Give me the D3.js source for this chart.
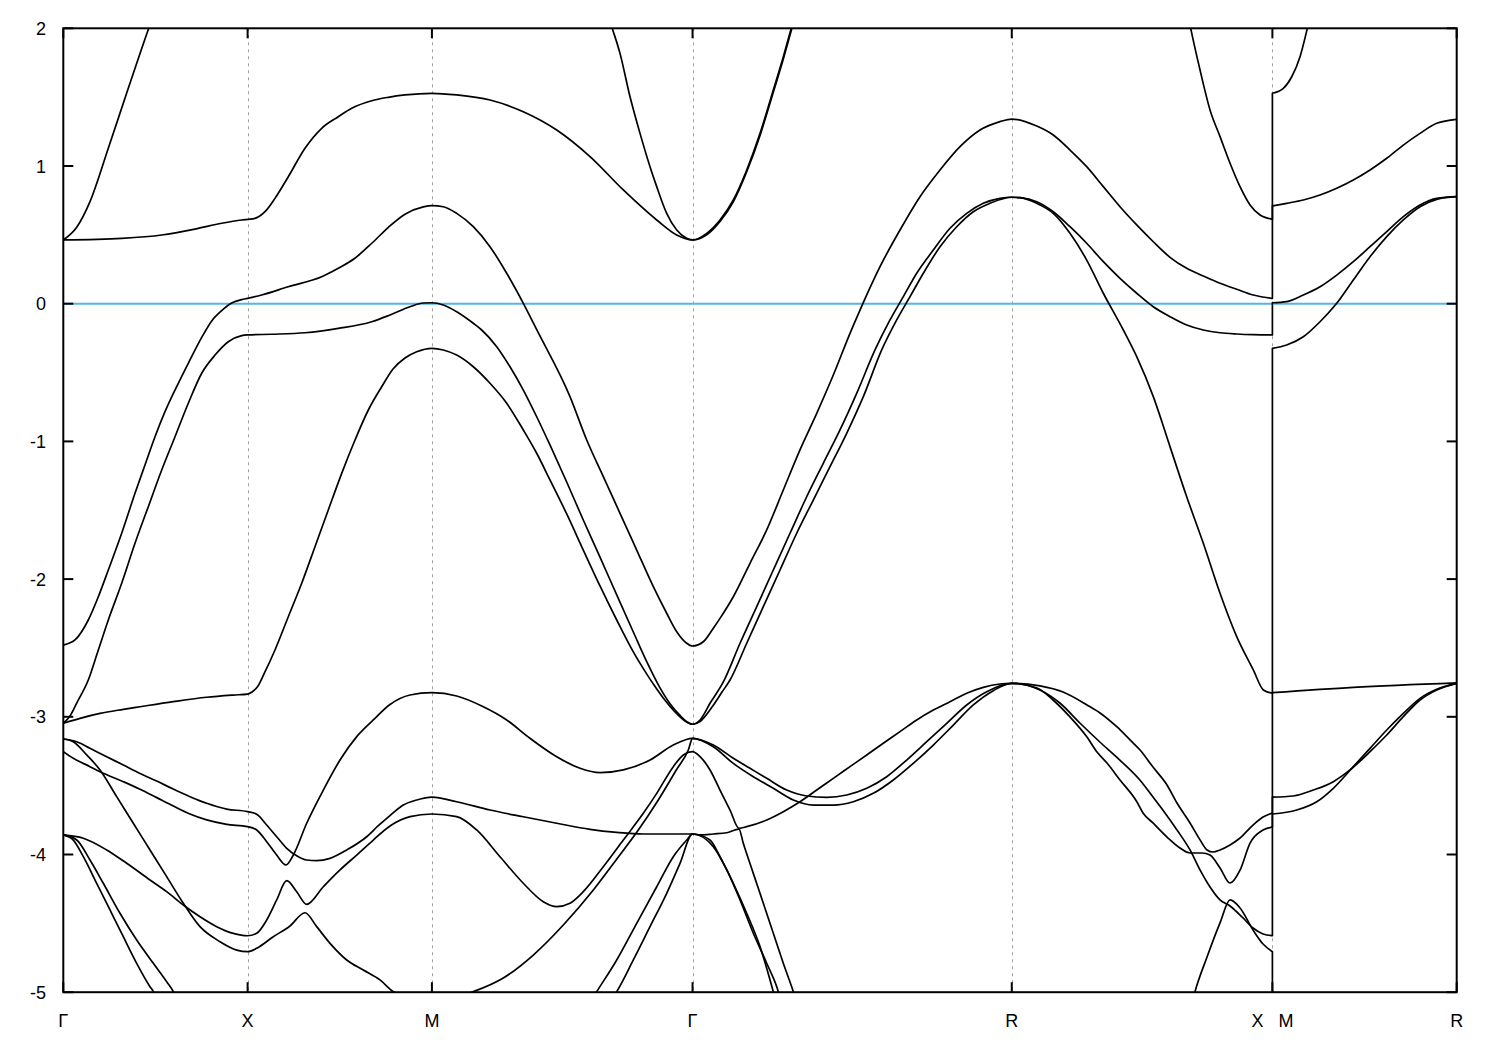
<!DOCTYPE html>
<html><head><meta charset="utf-8">
<script src="https://cdn.jsdelivr.net/npm/d3@7"></script>
<style>
body{margin:0;background:#fff;}
svg{display:block;}
text{font-family:"Liberation Sans",Arial,sans-serif;font-size:18px;fill:#000;white-space:pre;}
</style></head><body>
<svg id="chart" width="1500" height="1050"></svg>
<script>
// high-symmetry path positions and labels
const kTicks = [0, 0.5, 1.0, 1.7071, 2.5731, 3.2802, 3.7802];
const kLabels = ["Γ", "X", "M", "Γ", "R", "X   M", "R"];
const eTicks = [-5, -4, -3, -2, -1, 0, 1, 2];
const eRange = [-5, 2];
const fermiLevel = 0;

// bands: [k, E] pairs, repeated k = discontinuity X|M
const bandC1 = [[0,0.463],[0.0364,0.555],[0.0724,0.741],[0.1221,1.129],[0.1763,1.564],[0.2333,2.012],[0.245,2.10]];
const bandC2 = [[0,0.463],[0.1584,0.475],[0.2670,0.499],[0.3573,0.542],[0.4297,0.584],[0.4840,0.608],[0.5,0.613],[0.5201,0.620],[0.5472,0.668],[0.5743,0.765],[0.6104,0.922],[0.6557,1.129],[0.7010,1.274],[0.7461,1.358],[0.7824,1.419],[0.8367,1.474],[0.8817,1.499],[0.9270,1.516],[1.0,1.528],[1.0673,1.516],[1.1576,1.479],[1.2480,1.394],[1.3386,1.261],[1.4290,1.068],[1.5193,0.826],[1.6099,0.608],[1.6642,0.499],[1.7071,0.463],[1.7455,0.511],[1.7816,0.608],[1.8177,0.753],[1.8541,0.971],[1.8902,1.237],[1.9262,1.552],[1.9534,1.794],[1.9761,2.012],[1.9851,2.097]];
const bandV = [[1.4778,2.097],[1.4878,2.012],[1.5103,1.818],[1.5375,1.503],[1.5646,1.237],[1.5917,0.995],[1.6099,0.850],[1.6370,0.656],[1.6642,0.535],[1.6913,0.475],[1.7071,0.463],[1.7455,0.500],[1.7816,0.597],[1.8177,0.740],[1.8541,0.958],[1.8902,1.222],[1.9262,1.536],[1.9534,1.777],[1.9761,1.995],[1.9851,2.08]];
const bandB1 = [[3.0513,2.097],[3.0586,2.0],[3.0839,1.697],[3.1110,1.407],[3.1382,1.213],[3.1653,1.020],[3.1924,0.850],[3.2196,0.717],[3.2467,0.644],[3.2802,0.613],[3.2802,1.528],[3.3099,1.564],[3.3327,1.648],[3.3552,1.794],[3.3750,2.0],[3.3823,2.082]];
const bandC3 = [[0,-2.479],[0.0317,-2.442],[0.0678,-2.297],[0.0950,-2.128],[0.1221,-1.934],[0.1584,-1.667],[0.1945,-1.377],[0.2216,-1.171],[0.2488,-0.966],[0.2759,-0.784],[0.3120,-0.578],[0.3391,-0.433],[0.3755,-0.245],[0.4026,-0.125],[0.4297,-0.050],[0.4569,0.005],[0.4840,0.030],[0.5,0.039],
 [0.538,0.063],[0.610,0.123],[0.701,0.196],[0.746,0.257],[0.791,0.330],[0.837,0.439],[0.882,0.555],[0.927,0.650],[0.9767,0.703],[1.0,0.712],
 [1.0309,0.704],[1.0673,0.656],[1.1123,0.559],[1.1576,0.414],[1.2029,0.221],[1.2480,0.003],[1.2865,-0.200],[1.3746,-0.675],[1.4200,-0.990],[1.4650,-1.256],[1.5103,-1.522],[1.5556,-1.789],[1.6007,-2.055],[1.6370,-2.248],[1.6642,-2.382],[1.6913,-2.466],[1.7071,-2.486],
 [1.7363,-2.455],[1.7634,-2.357],[1.7816,-2.285],[1.8177,-2.128],[1.8630,-1.885],[1.9083,-1.643],[1.9533,-1.353],[1.9986,-1.062],[2.0440,-0.796],[2.0890,-0.518],[2.1343,-0.215],[2.1614,-0.046],[2.2157,0.269],[2.2699,0.535],[2.3242,0.777],[2.3785,0.971],[2.4327,1.140],[2.4870,1.261],[2.5412,1.322],[2.5731,1.341],
 [2.6408,1.290],[2.6858,1.225],[2.7311,1.116],[2.7764,0.995],[2.8215,0.850],[2.8668,0.704],[2.9121,0.572],[2.9571,0.450],[3.0024,0.337],[3.0477,0.257],[3.0928,0.201],[3.1381,0.148],[3.1834,0.105],[3.2284,0.063],[3.2802,0.039],
 [3.2802,0.710],[3.3190,0.729],[3.3641,0.753],[3.4094,0.789],[3.4547,0.838],[3.4997,0.898],[3.5451,0.971],[3.5904,1.056],[3.6354,1.152],[3.6807,1.237],[3.7260,1.310],[3.7802,1.339]];
const bandC4 = [[0,-3.047],[0.0182,-2.994],[0.0364,-2.900],[0.0678,-2.733],[0.0950,-2.515],[0.1221,-2.297],[0.1584,-2.030],[0.1945,-1.740],[0.2306,-1.474],[0.2670,-1.208],[0.3031,-0.966],[0.3391,-0.723],[0.3755,-0.505],[0.4116,-0.373],[0.4476,-0.276],[0.4840,-0.232],[0.5,-0.227],
 [0.5654,-0.222],[0.6557,-0.211],[0.7461,-0.179],[0.8367,-0.131],[0.8863,-0.082],[0.9406,-0.022],[0.9767,0.005],[1.0,0.007],
 [1.0309,-0.009],[1.0673,-0.058],[1.1123,-0.142],[1.1351,-0.191],[1.1758,-0.312],[1.2119,-0.458],[1.2480,-0.627],[1.2843,-0.821],[1.3203,-1.026],[1.3657,-1.295],[1.4107,-1.571],[1.4560,-1.840],[1.5014,-2.115],[1.5464,-2.384],[1.5828,-2.600],[1.6188,-2.790],[1.6460,-2.905],[1.6731,-2.990],[1.6913,-3.035],[1.7071,-3.054],
 [1.7274,-3.023],[1.7545,-2.902],[1.7906,-2.747],[1.8359,-2.466],[1.8812,-2.200],[1.9262,-1.934],[1.9715,-1.667],[2.0168,-1.402],[2.0618,-1.159],[2.1071,-0.917],[2.1524,-0.651],[2.2021,-0.336],[2.2428,-0.118],[2.2789,0.051],[2.3152,0.221],[2.3603,0.390],[2.4056,0.548],[2.4509,0.656],[2.4959,0.729],[2.5412,0.765],[2.5731,0.773],
 [2.5955,0.770],[2.6408,0.741],[2.6858,0.668],[2.7311,0.559],[2.7764,0.439],[2.8215,0.305],[2.8668,0.184],[2.9121,0.076],[2.9571,-0.022],[3.0024,-0.094],[3.0477,-0.155],[3.0928,-0.191],[3.1381,-0.211],[3.1834,-0.220],[3.2284,-0.225],[3.2802,-0.227],
 [3.2802,0.007],[3.3190,0.015],[3.3641,0.063],[3.4094,0.123],[3.4547,0.208],[3.4997,0.305],[3.5451,0.414],[3.5904,0.523],[3.6354,0.632],[3.6807,0.717],[3.7260,0.765],[3.7802,0.777]];
const bandC5 = [[0,-3.047],[0.0453,-3.011],[0.0996,-2.975],[0.1628,-2.946],[0.2081,-2.927],[0.2984,-2.890],[0.3890,-2.858],[0.4612,-2.842],[0.5,-2.835],
 [0.5119,-2.820],[0.5282,-2.776],[0.5445,-2.689],[0.5743,-2.515],[0.6104,-2.273],[0.6468,-2.030],[0.6828,-1.765],[0.7189,-1.498],[0.7553,-1.232],[0.7914,-0.990],[0.8275,-0.772],[0.8638,-0.603],[0.8945,-0.474],[0.9270,-0.394],[0.9588,-0.349],[1.0,-0.324],
 [1.0309,-0.336],[1.0673,-0.373],[1.1123,-0.458],[1.1576,-0.578],[1.2029,-0.723],[1.2480,-0.917],[1.2843,-1.086],[1.3203,-1.280],[1.3657,-1.527],[1.4107,-1.789],[1.4560,-2.050],[1.5014,-2.297],[1.5464,-2.529],[1.5782,-2.670],[1.6053,-2.780],[1.6324,-2.880],[1.6595,-2.965],[1.6866,-3.030],[1.7071,-3.054],
 [1.7274,-3.034],[1.7600,-2.929],[1.7871,-2.820],[1.8088,-2.733],[1.8541,-2.466],[1.8991,-2.200],[1.9444,-1.934],[1.9897,-1.667],[2.0347,-1.426],[2.0800,-1.184],[2.1253,-0.941],[2.1704,-0.675],[2.2203,-0.336],[2.2610,-0.118],[2.2971,0.051],[2.3332,0.221],[2.3785,0.414],[2.4238,0.559],[2.4688,0.668],[2.5141,0.729],[2.5731,0.773],
 [2.5955,0.770],[2.6408,0.729],[2.6858,0.656],[2.7311,0.511],[2.7764,0.317],[2.8215,0.076],[2.8757,-0.191],[2.9121,-0.385],[2.9571,-0.675],[3.0024,-1.038],[3.0477,-1.402],[3.0928,-1.740],[3.1381,-2.103],[3.1834,-2.418],[3.2284,-2.660],[3.2556,-2.805],[3.2802,-2.829],
 [3.2802,-0.324],[3.3190,-0.300],[3.3641,-0.240],[3.4094,-0.131],[3.4547,0.003],[3.4997,0.172],[3.5451,0.341],[3.5904,0.487],[3.6354,0.608],[3.6807,0.704],[3.7260,0.758],[3.7802,0.777]];
const bandL1 = [[0,-3.161],[0.0364,-3.181],[0.0724,-3.229],[0.1177,-3.290],[0.1628,-3.350],[0.2081,-3.411],[0.2534,-3.467],[0.2984,-3.525],[0.3437,-3.580],[0.3890,-3.628],[0.4433,-3.670],[0.5,-3.689],
 [0.5247,-3.708],[0.5518,-3.786],[0.5789,-3.871],[0.6061,-3.955],[0.6332,-4.009],[0.6603,-4.040],[0.6875,-4.045],[0.7236,-4.028],[0.7689,-3.967],[0.8231,-3.871],[0.8538,-3.793],[0.8863,-3.717],[0.9224,-3.641],[0.9588,-3.604],[1.0,-3.583],
 [1.0673,-3.617],[1.1576,-3.677],[1.2480,-3.726],[1.3386,-3.773],[1.4290,-3.817],[1.5014,-3.839],[1.5735,-3.851],[1.6460,-3.851],[1.7071,-3.851],
 [1.7274,-3.858],[1.7634,-3.851],[1.7998,-3.842],[1.8331,-3.815],[1.8448,-3.919],[1.8719,-4.137],[1.8991,-4.354],[1.9262,-4.572],[1.9533,-4.790],[1.9805,-4.996],[1.9878,-5.057]];
const bandL2 = [[0,-3.253],[0.0271,-3.301],[0.0724,-3.362],[0.0996,-3.399],[0.1628,-3.471],[0.2081,-3.526],[0.2534,-3.587],[0.2984,-3.648],[0.3437,-3.706],[0.3890,-3.749],[0.4433,-3.781],[0.5,-3.798],
 [0.5247,-3.822],[0.5518,-3.907],[0.5789,-4.004],[0.6042,-4.076],[0.6240,-4.004],[0.6603,-3.773],[0.7054,-3.532],[0.7507,-3.314],[0.7960,-3.144],[0.8410,-3.023],[0.8863,-2.911],[0.9406,-2.842],[1.0,-2.825],
 [1.0673,-2.849],[1.1395,-2.927],[1.2029,-3.023],[1.2661,-3.156],[1.3386,-3.290],[1.4018,-3.374],[1.4560,-3.406],[1.5193,-3.386],[1.5917,-3.314],[1.6549,-3.205],[1.7071,-3.156],
 [1.7634,-3.205],[1.8177,-3.301],[1.8630,-3.374],[1.9083,-3.447],[1.9626,-3.532],[2.0168,-3.575],[2.0711,-3.585],[2.1253,-3.568],[2.1796,-3.519],[2.2339,-3.435],[2.2881,-3.314],[2.3424,-3.181],[2.3967,-3.047],[2.4509,-2.914],[2.5052,-2.818],[2.5731,-2.757],
 [2.6498,-2.776],[2.7122,-2.820],[2.7773,-2.914],[2.8126,-2.972],[2.8587,-3.074],[2.8940,-3.168],[2.9211,-3.241],[2.9563,-3.365],[2.9943,-3.495],[3.0214,-3.626],[3.0567,-3.771],[3.0839,-3.894],[3.1029,-3.967],[3.1191,-3.982],[3.1381,-3.967],[3.1653,-3.931],[3.1924,-3.880],[3.2276,-3.786],[3.2548,-3.728],[3.2802,-3.698],
 [3.2802,-2.825],[3.4997,-2.786],[3.7802,-2.753]];
const bandL3 = [[0,-3.858],[0.0543,-3.882],[0.1177,-3.967],[0.1720,-4.064],[0.2352,-4.185],[0.2805,-4.270],[0.3256,-4.367],[0.3709,-4.452],[0.4162,-4.524],[0.4612,-4.573],[0.5,-4.590],
 [0.5247,-4.572],[0.5518,-4.476],[0.5789,-4.330],[0.6061,-4.190],[0.6332,-4.270],[0.6603,-4.362],[0.7054,-4.234],[0.7507,-4.112],[0.7960,-4.004],[0.8410,-3.895],[0.8863,-3.793],[0.9406,-3.725],[1.0,-3.706],
 [1.0673,-3.725],[1.1215,-3.822],[1.1847,-4.016],[1.2480,-4.209],[1.3022,-4.343],[1.3386,-4.379],[1.3746,-4.354],[1.4107,-4.270],[1.4650,-4.089],[1.5193,-3.895],[1.5735,-3.701],[1.6099,-3.556],[1.6549,-3.362],[1.6821,-3.277],[1.7071,-3.253],
 [1.7274,-3.290],[1.7545,-3.386],[1.7816,-3.532],[1.8088,-3.677],[1.8331,-3.810],[1.8541,-3.798],[1.9083,-3.749],[1.9533,-3.689],[1.9986,-3.617],[2.0440,-3.532],[2.0890,-3.447],[2.1343,-3.362],[2.1796,-3.277],[2.2246,-3.192],[2.2699,-3.108],[2.3152,-3.023],[2.3603,-2.951],[2.4056,-2.890],[2.4509,-2.829],[2.4959,-2.786],[2.5412,-2.762],[2.5731,-2.757],
 [2.6416,-2.791],[2.6850,-2.878],[2.7311,-3.001],[2.7772,-3.147],[2.8044,-3.256],[2.8315,-3.336],[2.8668,-3.459],[2.9129,-3.619],[2.9292,-3.698],[2.9563,-3.771],[2.9943,-3.873],[3.0296,-3.953],[3.0567,-3.989],[3.0893,-3.989],[3.1110,-4.004],[3.1381,-4.098],[3.1652,-4.207],[3.1924,-4.113],[3.2196,-3.917],[3.2548,-3.822],[3.2802,-3.800],
 [3.2802,-3.583],[3.3370,-3.575],[3.3913,-3.532],[3.4455,-3.471],[3.4908,-3.386],[3.5451,-3.253],[3.5904,-3.132],[3.6354,-2.999],[3.6807,-2.878],[3.7260,-2.805],[3.7802,-2.757]];
const bandL4 = [[0,-3.161],[0.0271,-3.181],[0.0635,-3.277],[0.0996,-3.386],[0.1449,-3.580],[0.1899,-3.773],[0.2352,-3.967],[0.2805,-4.161],[0.3256,-4.354],[0.3709,-4.524],[0.4251,-4.633],[0.4704,-4.694],[0.5,-4.706],
 [0.5247,-4.681],[0.5697,-4.597],[0.6150,-4.519],[0.6557,-4.423],[0.6875,-4.524],[0.7236,-4.645],[0.7689,-4.766],[0.8139,-4.839],[0.8592,-4.911],[0.8953,-4.996],[0.9406,-5.035],[1.0,-5.05],
 [1.0581,-5.042],[1.1123,-4.996],[1.1937,-4.897],[1.2751,-4.730],[1.3565,-4.512],[1.4379,-4.258],[1.5057,-4.018],[1.5600,-3.822],[1.6142,-3.604],[1.6631,-3.386],[1.6956,-3.241],[1.7071,-3.156],
 [1.7634,-3.217],[1.8177,-3.338],[1.8720,-3.435],[1.9262,-3.519],[1.9805,-3.604],[2.0347,-3.641],[2.0890,-3.641],[2.1432,-3.617],[2.1975,-3.556],[2.2518,-3.459],[2.3060,-3.338],[2.3603,-3.205],[2.4146,-3.060],[2.4688,-2.914],[2.5231,-2.810],[2.5731,-2.757],
 [2.6494,-2.805],[2.7036,-2.900],[2.7579,-3.045],[2.8121,-3.183],[2.8664,-3.314],[2.9207,-3.459],[2.9563,-3.583],[2.9829,-3.677],[3.0214,-3.822],[3.0567,-3.967],[3.0838,-4.112],[3.1110,-4.236],[3.1381,-4.330],[3.1652,-4.374],[3.2005,-4.461],[3.2276,-4.534],[3.2548,-4.577],[3.2802,-4.590],
 [3.2802,-3.706],[3.3462,-3.677],[3.4005,-3.617],[3.4455,-3.519],[3.4997,-3.362],[3.5451,-3.229],[3.5904,-3.096],[3.6354,-2.975],[3.6807,-2.866],[3.7260,-2.800],[3.7802,-2.757]];
const bandL5 = [[0,-3.858],[0.0271,-3.895],[0.0543,-4.016],[0.0906,-4.209],[0.1267,-4.403],[0.1628,-4.597],[0.1991,-4.790],[0.2352,-4.960],[0.2442,-4.996],[0.255,-5.08]];
const bandL6 = [[0,-3.858],[0.0364,-3.895],[0.0724,-4.040],[0.1085,-4.209],[0.1538,-4.427],[0.1991,-4.621],[0.2442,-4.790],[0.2805,-4.924],[0.2984,-4.996],[0.31,-5.07]];
const bandL7 = [[1.4344,-5.05],[1.4471,-4.996],[1.5014,-4.766],[1.5556,-4.500],[1.6099,-4.234],[1.6549,-4.016],[1.6913,-3.895],[1.7071,-3.851],[1.7545,-3.895],[1.7816,-4.016],[1.8177,-4.209],[1.8541,-4.427],[1.8902,-4.669],[1.9262,-4.996],[1.9308,-5.04]];
const bandL8 = [[1.4886,-5.05],[1.5014,-4.996],[1.5464,-4.766],[1.5917,-4.524],[1.6370,-4.282],[1.6731,-4.064],[1.7071,-3.851],[1.7634,-3.943],[1.7998,-4.112],[1.8359,-4.330],[1.8720,-4.572],[1.9083,-4.790],[1.9398,-4.996],[1.9444,-5.04]];
const bandL9 = [[3.0649,-5.05],[3.0703,-4.996],[3.1029,-4.744],[3.1381,-4.497],[3.1653,-4.330],[3.1924,-4.388],[3.2276,-4.548],[3.2548,-4.650],[3.2802,-4.706],[3.2802,-5.1]];

const bands = [bandC1, bandC2, bandV, bandB1, bandC3, bandC4, bandC5, bandL1, bandL2, bandL3, bandL4, bandL5, bandL6, bandL7, bandL8, bandL9];

// ---- drawing ----
const svg = d3.select("#chart");
const plot = {x0: 63.3, x1: 1456.7, y0: 28.3, y1: 992.2};
const x = d3.scaleLinear().domain([kTicks[0], kTicks[kTicks.length - 1]]).range([plot.x0, plot.x1]);
const y = d3.scaleLinear().domain(eRange).range([plot.y1, plot.y0]);

svg.append("rect").attr("width", 1500).attr("height", 1050).attr("fill", "#fff");
svg.append("clipPath").attr("id", "clip").append("rect")
  .attr("x", plot.x0).attr("y", plot.y0).attr("width", plot.x1 - plot.x0).attr("height", plot.y1 - plot.y0);

// vertical dashed grid at inner high-symmetry points
svg.append("g").selectAll("line").data(kTicks.slice(1, -1)).join("line")
  .attr("x1", d => Math.round(x(d)) + 0.5).attr("x2", d => Math.round(x(d)) + 0.5)
  .attr("y1", plot.y0).attr("y2", plot.y1)
  .attr("stroke", "#a0a0a0").attr("stroke-width", 1).attr("stroke-dasharray", "3,4");

// Fermi level
svg.append("line").attr("x1", plot.x0).attr("x2", plot.x1)
  .attr("y1", y(fermiLevel)).attr("y2", y(fermiLevel))
  .attr("stroke", "#56b4e9").attr("stroke-width", 2);

// bands
const gen = d3.line().x(d => x(d[0])).y(d => y(d[1])).curve(d3.curveMonotoneX);
function bandPath(pts) {
  const runs = [];
  let cur = [pts[0]];
  for (let i = 1; i < pts.length; i++) {
    if (pts[i][0] === pts[i - 1][0]) { runs.push(cur); cur = [pts[i]]; }
    else cur.push(pts[i]);
  }
  runs.push(cur);
  let s = "";
  runs.forEach((r, i) => {
    if (r.length === 1) {
      s += (i ? "L" : "M") + x(r[0][0]) + "," + y(r[0][1]);
    } else {
      const p = gen(r);
      s += i ? "L" + p.slice(1) : p;
    }
  });
  return s;
}
svg.append("g").attr("clip-path", "url(#clip)").selectAll("path").data(bands).join("path")
  .attr("d", bandPath).attr("fill", "none").attr("stroke", "#000")
  .attr("stroke-width", 1.7).attr("stroke-linejoin", "round");

// frame
svg.append("rect").attr("x", plot.x0).attr("y", plot.y0)
  .attr("width", plot.x1 - plot.x0).attr("height", plot.y1 - plot.y0)
  .attr("fill", "none").attr("stroke", "#000").attr("stroke-width", 2);

// y ticks (left and right, inward)
const tl = 10;
const yt = svg.append("g");
yt.selectAll("line.l").data(eTicks).join("line").attr("class", "l")
  .attr("x1", plot.x0).attr("x2", plot.x0 + tl).attr("y1", d => y(d)).attr("y2", d => y(d))
  .attr("stroke", "#000").attr("stroke-width", 2);
yt.selectAll("line.r").data(eTicks).join("line").attr("class", "r")
  .attr("x1", plot.x1 - tl).attr("x2", plot.x1).attr("y1", d => y(d)).attr("y2", d => y(d))
  .attr("stroke", "#000").attr("stroke-width", 2);
yt.selectAll("text").data(eTicks).join("text")
  .attr("x", 46).attr("y", d => y(d) + 6.5).attr("text-anchor", "end")
  .text(d => String(d));

// x ticks (top and bottom, inward)
const xt = svg.append("g");
xt.selectAll("line.b").data(kTicks).join("line").attr("class", "b")
  .attr("x1", d => x(d)).attr("x2", d => x(d)).attr("y1", plot.y1).attr("y2", plot.y1 - tl)
  .attr("stroke", "#000").attr("stroke-width", 2);
xt.selectAll("line.t").data(kTicks).join("line").attr("class", "t")
  .attr("x1", d => x(d)).attr("x2", d => x(d)).attr("y1", plot.y0).attr("y2", plot.y0 + tl)
  .attr("stroke", "#000").attr("stroke-width", 2);
xt.selectAll("text").data(kTicks).join("text")
  .attr("x", d => x(d)).attr("y", 1027).attr("text-anchor", "middle")
  .text((d, i) => kLabels[i]);
</script>
</body></html>
